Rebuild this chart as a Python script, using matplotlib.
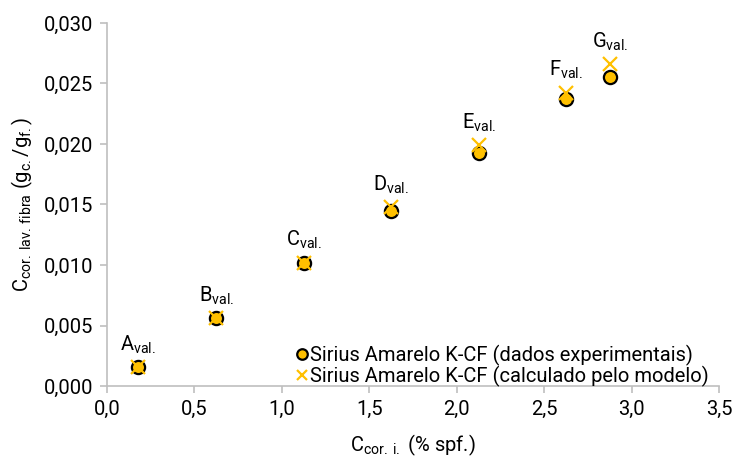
import matplotlib
matplotlib.use("Agg")
import matplotlib.pyplot as plt
from matplotlib.ticker import FuncFormatter, MultipleLocator

plt.rcParams['font.family'] = ['Roboto', 'DejaVu Sans']
plt.rcParams['mathtext.default'] = 'regular'

# data points: initial dye concentration vs dye on washed fibre
labels = ['A', 'B', 'C', 'D', 'E', 'F', 'G']
c_initial = [0.175, 0.625, 1.125, 1.625, 2.125, 2.625, 2.875]
c_fibre_exp = [0.00157, 0.00563, 0.01017, 0.01446, 0.01926, 0.02372, 0.02556]
c_fibre_model = [0.00160, 0.00565, 0.01020, 0.01480, 0.01990, 0.02425, 0.02660]

GOLD = '#FFC000'
AXIS_GREY = '#BFBFBF'
FS = 14.5

fig = plt.figure(figsize=(7.34, 4.59), dpi=100)
ax = fig.add_axes([0.1458, 0.159, 0.8338, 0.791])

ax.plot(c_initial, c_fibre_exp, linestyle='none', marker='o', markersize=9.5,
        markerfacecolor=GOLD, markeredgecolor='black', markeredgewidth=1.6,
        label='Sirius Amarelo K-CF (dados experimentais)', zorder=3)
ax.plot(c_initial, c_fibre_model, linestyle='none', marker='x', markersize=9.5,
        markeredgecolor=GOLD, markeredgewidth=1.6,
        label='Sirius Amarelo K-CF (calculado pelo modelo)', zorder=4)

for name, x, y in zip(labels, c_initial, c_fibre_model):
    ax.annotate(name + r'$_{val.}$', (x, y), xytext=(0, 8),
                textcoords='offset points', ha='center', va='bottom',
                fontsize=FS)

ax.set_xlim(0, 3.5)
ax.set_ylim(0, 0.030)
ax.xaxis.set_major_locator(MultipleLocator(0.5))
ax.yaxis.set_major_locator(MultipleLocator(0.005))
ax.xaxis.set_major_formatter(FuncFormatter(lambda v, p: f'{v:.1f}'.replace('.', ',')))
ax.yaxis.set_major_formatter(FuncFormatter(lambda v, p: f'{v:.3f}'.replace('.', ',')))

for side in ('top', 'right'):
    ax.spines[side].set_visible(False)
for side in ('left', 'bottom'):
    ax.spines[side].set_color(AXIS_GREY)
    ax.spines[side].set_linewidth(1.2)
ax.tick_params(axis='both', direction='out', length=5, width=1.2,
               color=AXIS_GREY, labelsize=FS, pad=5)

ax.set_xlabel(r'C$_{cor.\,i.}$ (% spf.)', fontsize=FS, labelpad=10)
ax.set_ylabel(r'C$_{cor.\,lav.\,fibra}$ (g$_{c.}$/g$_{f.}$)', fontsize=FS, labelpad=6)

ax.legend(loc='lower right', bbox_to_anchor=(1.0, -0.03), frameon=False,
          fontsize=FS, handlelength=0.5, handletextpad=0.15,
          labelspacing=0.0, borderaxespad=0.1, markerscale=0.8)

fig.savefig('out.png', dpi=100)
